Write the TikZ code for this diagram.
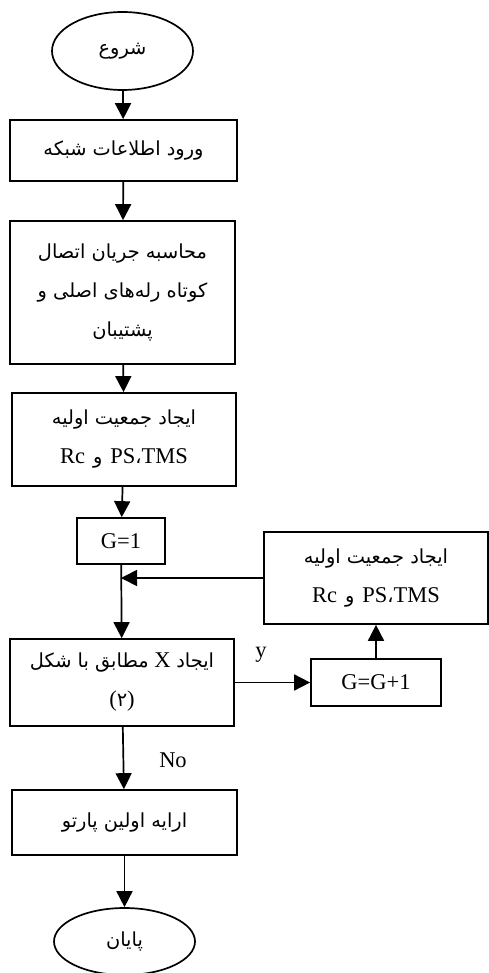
\documentclass[tikz,border=0pt]{standalone}
\usepackage{fontspec}
\setmainfont{Liberation Serif}
\newfontfamily\fa[Script=Arabic,Scale=0.86]{DejaVu Sans}
\TeXXeTstate=1
\usetikzlibrary{shapes.geometric,arrows.meta}
\newcommand{\rcline}{\beginR\beginL TMS\endL{}{\fa ،}\beginL PS\endL\hspace{8pt}{\fa و}\hspace{8pt}\beginL Rc\endL\endR}
\begin{document}
\begin{tikzpicture}[x=1pt,y=-1pt, line width=1.7pt,
  box/.style={draw, rectangle, inner sep=0pt, align=center, font=\fontsize{22.5}{39}\selectfont},
  term/.style={draw, ellipse, inner sep=0pt, font=\fontsize{22.5}{26}\selectfont},
  arr/.style={-{Triangle[length=16pt,width=16pt]}},
  lbl/.style={font=\fontsize{22.5}{26}\selectfont, inner sep=0pt}]
\useasboundingbox (0,0) rectangle (489,973);
\node[term, minimum width=141pt, minimum height=78pt] (start) at (122.5,51) {\fa\beginR شروع\endR};
\node[box, minimum width=227pt, minimum height=61pt] (b1) at (123.5,150.5) {\fa\beginR ورود اطلاعات شبکه\endR};
\node[box, minimum width=225pt, minimum height=143pt] (b2) at (122.5,292.5) {\fa\beginR محاسبه جریان اتصال\endR\\ \fa\beginR کوتاه رله‌های اصلی و\endR\\ \fa\beginR پشتیبان\endR};
\node[box, minimum width=224pt, minimum height=93pt] (b3) at (124,439.5) {\fa\beginR ایجاد جمعیت اولیه\endR\\ \rcline};
\node[box, minimum width=88pt, minimum height=46pt] (g1) at (121,541) {G=1};
\node[box, minimum width=224pt, minimum height=87pt] (bx) at (122,682.5) {\beginR{\fa ایجاد} X {\fa مطابق با شکل}\endR\\ ({\fa ۲})};
\node[box, minimum width=225pt, minimum height=65pt] (b5) at (124.5,822.5) {\fa\beginR ارایه اولین پارتو\endR};
\node[term, minimum width=141pt, minimum height=67pt] (end) at (124.5,941.5) {\fa\beginR پایان\endR};
\node[box, minimum width=224pt, minimum height=92pt] (rb) at (376,578) {\fa\beginR ایجاد جمعیت اولیه\endR\\ \rcline};
\node[box, minimum width=130pt, minimum height=47pt] (gg) at (376,682.5) {G=G+1};
\node[lbl] (ly) at (261,655) {y};
\node[lbl] (lno) at (173,760) {No};
\coordinate (j) at (g1.south |- rb.west);
\draw[arr] (start) -- (b1);
\draw[arr] (b1) -- (b2);
\draw[arr] (b2) -- (b3);
\draw[arr] (b3) -- (g1);
\draw[arr] (g1) -- (bx);
\draw[arr] (rb.west) -- (j);
\draw[arr] (bx) -- (gg);
\draw[arr] (gg) -- (rb);
\draw[arr] (bx) -- (b5);
\draw[arr] (b5) -- (end);
\end{tikzpicture}
\end{document}
